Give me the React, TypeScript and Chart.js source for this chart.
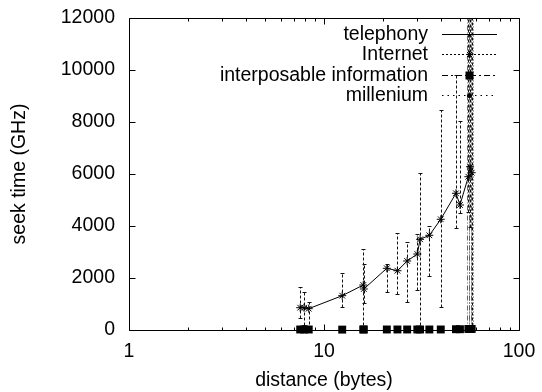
import React, { useEffect, useRef } from "react";
import { Chart, registerables } from "chart.js";

Chart.register(...registerables);

const FONT = '"Liberation Sans", Arial, Helvetica, sans-serif';
const FONT_SIZE = 19.5;

// shared x values (distance in bytes)
const distances = [7.55, 7.9, 8.35, 12.4, 15.9, 16.0, 21.0, 23.8, 26.7, 30.1, 31.1, 34.7, 39.7, 47.5, 49.8, 55.0, 56.1, 57.2];
const telephony = [858, 858, 820, 1320, 1730, 1577, 2373, 2280, 2654, 2923, 3488, 3642, 4258, 5258, 4808, 5896, 6280, 6050];
const internet = [858, 858, 820, 1320, 1730, 1577, 2373, 2280, 2654, 2923, 3488, 3642, 4258, 5258, 4808, 5896, 6280, 6050];
const internetLow = [450, 200, 50, 896, 0, 1027, 1460, 1385, 1065, 1538, 0, 2088, 896, 3912, 4488, 4550, 3973, 0];
const internetHigh = [1665, 1470, 1090, 2180, 3104, 2538, 2540, 3718, 3397, 3680, 6027, 4000, 8460, 9808, 8050, 14000, 14000, 14000];
const interposable = [20, 20, 20, 15, 20, 20, 20, 20, 20, 20, 20, 20, 20, 30, 30, 40, 40, 40];
const interposableLow = [0, 0, 0, 0, 0, 0, 0, 0, 0, 0, 0, 0, 0, 0, 0, 0, 0, 0];
const interposableHigh = [40, 40, 40, 30, 40, 40, 40, 40, 40, 40, 40, 40, 40, 60, 60, 14000, 14000, 14000];
const millenium = [10, 10, 10, 10, 10, 10, 10, 10, 10, 10, 10, 10, 10, 15, 15, 20, 20, 20];
const milleniumLow = [0, 0, 0, 0, 0, 0, 0, 0, 0, 0, 0, 0, 0, 0, 0, 0, 0, 0];
const milleniumHigh = [20, 20, 20, 20, 20, 20, 20, 20, 20, 20, 20, 20, 20, 30, 30, 14000, 14000, 14000];

const xTickValues = [1, 10, 100];
const xMinorValues = [2, 3, 4, 5, 6, 7, 8, 9, 20, 30, 40, 50, 60, 70, 80, 90];
const yTickValues = [0, 2000, 4000, 6000, 8000, 10000, 12000];

const legendLabels = ["telephony", "Internet", "interposable information", "millenium"];

function pts(ys: number[]) {
  return distances.map((d, i) => ({ x: d, y: ys[i] }));
}

function drawBars(chart: any, lows: number[], highs: number[], dash: number[], color: string, offset: number) {
  const { ctx, chartArea: a } = chart;
  const xs = chart.scales.x;
  const ys = chart.scales.y;
  ctx.save();
  ctx.beginPath();
  ctx.rect(a.left, a.top, a.right - a.left, a.bottom - a.top + 1);
  ctx.clip();
  ctx.strokeStyle = color;
  ctx.lineWidth = 1;
  for (let i = 0; i < distances.length; i++) {
    const px = Math.round(xs.getPixelForValue(distances[i])) + 0.5 + offset;
    const p1 = Math.round(ys.getPixelForValue(lows[i])) + 0.5;
    const p2 = Math.round(ys.getPixelForValue(highs[i])) + 0.5;
    if (Math.abs(p1 - p2) < 2) continue;
    ctx.setLineDash(dash);
    ctx.beginPath();
    ctx.moveTo(px, p1);
    ctx.lineTo(px, p2);
    ctx.stroke();
    ctx.setLineDash([]);
    ctx.beginPath();
    ctx.moveTo(px - 2, p1);
    ctx.lineTo(px + 2, p1);
    ctx.moveTo(px - 2, p2);
    ctx.lineTo(px + 2, p2);
    ctx.stroke();
  }
  ctx.restore();
}

function star(ctx: CanvasRenderingContext2D, x: number, y: number, r: number) {
  ctx.beginPath();
  ctx.moveTo(x - r, y);
  ctx.lineTo(x + r, y);
  ctx.moveTo(x, y - r);
  ctx.lineTo(x, y + r);
  const d = r * 0.75;
  ctx.moveTo(x - d, y - d);
  ctx.lineTo(x + d, y + d);
  ctx.moveTo(x - d, y + d);
  ctx.lineTo(x + d, y - d);
  ctx.stroke();
}

const decorPlugin = {
  id: "decor",
  beforeDatasetsDraw(chart: any) {
    drawBars(chart, interposableLow, interposableHigh, [5, 2, 1, 2], "#666", -1);
    drawBars(chart, milleniumLow, milleniumHigh, [1, 2], "#555", 1);
    drawBars(chart, internetLow, internetHigh, [3, 2], "#111", 0);
  },
  afterDraw(chart: any) {
    const { ctx, chartArea: a } = chart;
    const xs = chart.scales.x;
    const ys = chart.scales.y;
    ctx.save();
    ctx.strokeStyle = "#000";
    ctx.lineWidth = 1;
    ctx.setLineDash([]);
    const L = Math.round(a.left) + 0.5;
    const R = Math.round(a.right) + 0.5;
    const T = Math.round(a.top) + 0.5;
    const B = Math.round(a.bottom) + 0.5;
    ctx.beginPath();
    ctx.rect(L, T, R - L, B - T);
    ctx.stroke();
    ctx.beginPath();
    for (const v of yTickValues) {
      const py = Math.round(ys.getPixelForValue(v)) + 0.5;
      ctx.moveTo(L, py);
      ctx.lineTo(L + 6, py);
      ctx.moveTo(R, py);
      ctx.lineTo(R - 6, py);
    }
    for (const v of xTickValues) {
      const px = Math.round(xs.getPixelForValue(v)) + 0.5;
      ctx.moveTo(px, B);
      ctx.lineTo(px, B - 6);
      ctx.moveTo(px, T);
      ctx.lineTo(px, T + 6);
    }
    for (const v of xMinorValues) {
      const px = Math.round(xs.getPixelForValue(v)) + 0.5;
      ctx.moveTo(px, B);
      ctx.lineTo(px, B - 3);
      ctx.moveTo(px, T);
      ctx.lineTo(px, T + 3);
    }
    ctx.stroke();

    // legend
    const textRight = 428;
    const x0 = 442;
    const x1 = 497;
    const xm = 469.5;
    const rows = [33.5, 54, 74.5, 95];
    ctx.font = `${FONT_SIZE}px ${FONT}`;
    ctx.fillStyle = "#000";
    ctx.textAlign = "right";
    ctx.textBaseline = "middle";
    legendLabels.forEach((lab, i) => {
      ctx.fillText(lab, textRight, rows[i] + 1);
    });
    const r0 = Math.round(rows[0]) + 0.5;
    ctx.beginPath();
    ctx.moveTo(x0, r0);
    ctx.lineTo(x1, r0);
    ctx.moveTo(xm, r0 - 2);
    ctx.lineTo(xm, r0 + 2);
    ctx.stroke();
    const r1 = Math.round(rows[1]) + 0.5;
    ctx.setLineDash([2, 2]);
    ctx.beginPath();
    ctx.moveTo(x0, r1);
    ctx.lineTo(x1, r1);
    ctx.stroke();
    ctx.setLineDash([]);
    star(ctx, xm, r1, 3.5);
    const r2 = Math.round(rows[2]) + 0.5;
    ctx.setLineDash([6, 3, 2, 3]);
    ctx.beginPath();
    ctx.moveTo(x0, r2);
    ctx.lineTo(x1, r2);
    ctx.stroke();
    ctx.setLineDash([]);
    ctx.fillRect(xm - 4, r2 - 4, 8, 8);
    const r3 = Math.round(rows[3]) + 0.5;
    ctx.setLineDash([1.5, 4]);
    ctx.beginPath();
    ctx.moveTo(x0, r3);
    ctx.lineTo(x1, r3);
    ctx.stroke();
    ctx.setLineDash([]);
    ctx.beginPath();
    ctx.arc(xm, r3, 2.5, 0, Math.PI * 2);
    ctx.fill();
    ctx.restore();
  },
};

export default function App() {
  const ref = useRef<HTMLCanvasElement | null>(null);
  useEffect(() => {
    document.body.style.margin = "0";
    if (!ref.current) return;
    Chart.defaults.color = "#000";
    Chart.defaults.font.family = FONT;
    Chart.defaults.font.size = FONT_SIZE;
    const chart = new Chart(ref.current, {
      type: "line",
      data: {
        datasets: [
          {
            label: legendLabels[0],
            data: pts(telephony),
            borderColor: "#000",
            borderWidth: 1,
            pointRadius: 0,
            fill: false,
            tension: 0,
          },
          {
            label: legendLabels[1],
            data: pts(internet),
            showLine: false,
            pointStyle: "star",
            pointRadius: 4,
            borderColor: "#000",
            backgroundColor: "#000",
            borderWidth: 1,
            clip: false,
          },
          {
            label: legendLabels[2],
            data: pts(interposable),
            showLine: false,
            pointStyle: "rect",
            pointRadius: 5.6,
            borderColor: "#000",
            backgroundColor: "#000",
            borderWidth: 0,
            clip: false,
          },
          {
            label: legendLabels[3],
            data: pts(millenium),
            showLine: false,
            pointStyle: "circle",
            pointRadius: 2.5,
            borderColor: "#000",
            backgroundColor: "#000",
            borderWidth: 0,
            clip: false,
          },
        ],
      } as any,
      options: {
        animation: false,
        responsive: false,
        devicePixelRatio: 1,
        layout: { padding: { left: 0, top: 18, right: 23, bottom: 0 } },
        plugins: { legend: { display: false }, tooltip: { enabled: false } },
        scales: {
          x: {
            type: "logarithmic",
            min: 1,
            max: 100,
            grid: { display: false, drawTicks: false },
            border: { display: false },
            afterBuildTicks: (s: any) => {
              s.ticks = xTickValues.map((v) => ({ value: v }));
            },
            afterFit: (s: any) => {
              s.height = 62;
              s.paddingLeft = 0;
              s.paddingRight = 0;
            },
            ticks: {
              padding: 10,
              maxRotation: 0,
              autoSkip: false,
              callback: (v: any) => String(v),
            },
            title: {
              display: true,
              text: "distance (bytes)",
              padding: { top: 0, bottom: 0 },
            },
          },
          y: {
            type: "linear",
            min: 0,
            max: 12000,
            grid: { display: false, drawTicks: false },
            border: { display: false },
            afterBuildTicks: (s: any) => {
              s.ticks = yTickValues.map((v) => ({ value: v }));
            },
            afterFit: (s: any) => {
              s.width = 129;
              s.paddingTop = 0;
              s.paddingBottom = 0;
            },
            ticks: { padding: 14, callback: (v: any) => String(v) },
            title: {
              display: true,
              text: "seek time (GHz)",
              padding: { top: 8, bottom: 0 },
            },
          },
        },
      },
      plugins: [decorPlugin],
    });
    return () => chart.destroy();
  }, []);
  return <canvas ref={ref} width={542} height={392} style={{ display: "block" }} />;
}
